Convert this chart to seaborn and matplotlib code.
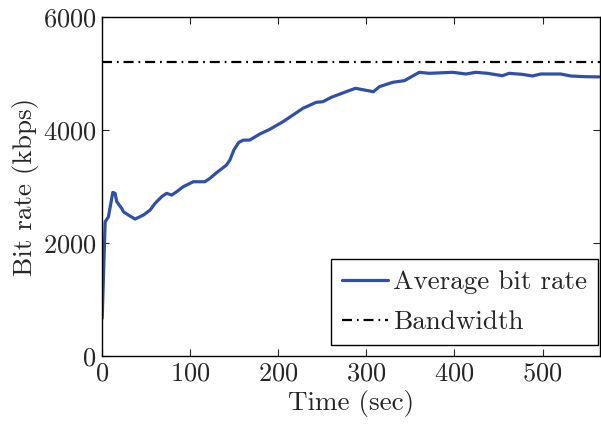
import matplotlib
matplotlib.use("Agg")
import matplotlib.pyplot as plt
import seaborn as sns
import pandas as pd

time_sec = [0, 3.4, 7.1, 12.1, 14.7, 16.6, 22.2, 24.1, 29.8, 37.4, 46.8, 54.4, 60, 67.5,
            73.2, 78.9, 84.5, 92, 103.4, 116.6, 122.3, 129.8, 141.2, 145, 149.5, 155,
            160, 167.6, 178.9, 190, 205.3, 216.6, 227.9, 243, 250.6, 260, 277, 287.6,
            297.8, 308, 314.8, 329.8, 343.2, 352.6, 360, 371.5, 397.8, 413, 424.3,
            437.5, 454.5, 462, 477, 488.5, 498, 520.6, 532, 547, 564]
avg_bitrate = [667, 2377, 2465, 2897, 2880, 2731, 2614, 2555, 2496, 2425, 2496, 2584, 2702,
               2820, 2880, 2850, 2908, 2997, 3085, 3085, 3145, 3244, 3381, 3469, 3646, 3780,
               3820, 3823, 3929, 4010, 4147, 4265, 4384, 4490, 4501, 4578, 4678, 4738,
               4708, 4678, 4767, 4844, 4873, 4956, 5021, 5003, 5021, 4991, 5021,
               5003, 4961, 5003, 4985, 4956, 4991, 4991, 4956, 4944, 4940]
bandwidth_time = [0, 565]
bandwidth_value = [5200, 5200]

sns.set_style("ticks")
plt.rcParams['font.family'] = ['cmr10', 'DejaVu Serif']
plt.rcParams['mathtext.fontset'] = 'cm'
plt.rcParams['axes.formatter.use_mathtext'] = True

fig = plt.figure(figsize=(6.01, 4.24), dpi=100)
ax = fig.add_axes([0.17, 0.16, 0.828, 0.8])

df = pd.DataFrame({"t": time_sec, "v": avg_bitrate})
bw = pd.DataFrame({"t": bandwidth_time, "v": bandwidth_value})
sns.lineplot(data=df, x="t", y="v", ax=ax, color="#3050a8", linewidth=2.3,
             label="Average bit rate")
sns.lineplot(data=bw, x="t", y="v", ax=ax, color="black", linewidth=1.6,
             linestyle=(0, (4.5, 2.2, 0.8, 2.2)), label="Bandwidth")

ax.set_xlim(0, 565)
ax.set_ylim(0, 6000)
ax.set_xticks([0, 100, 200, 300, 400, 500])
ax.set_yticks([0, 2000, 4000, 6000])
ax.set_xlabel("Time (sec)", fontsize=19.5, labelpad=3)
ax.set_ylabel("Bit rate (kbps)", fontsize=19.5, labelpad=3)
ax.tick_params(direction="in", top=True, right=True, labelsize=19, length=5,
               width=0.8, pad=4)
for s in ax.spines.values():
    s.set_linewidth(1.0)
    s.set_color("black")

leg = ax.legend(loc="lower right", bbox_to_anchor=(0.996, 0.032),
                fontsize=19.5, frameon=True, fancybox=False,
                edgecolor="black", framealpha=1, handlelength=1.7,
                borderpad=0.4, labelspacing=0.6, handletextpad=0.2,
                borderaxespad=0.0)
leg.get_frame().set_linewidth(1.0)

fig.savefig("out.png", dpi=100)
